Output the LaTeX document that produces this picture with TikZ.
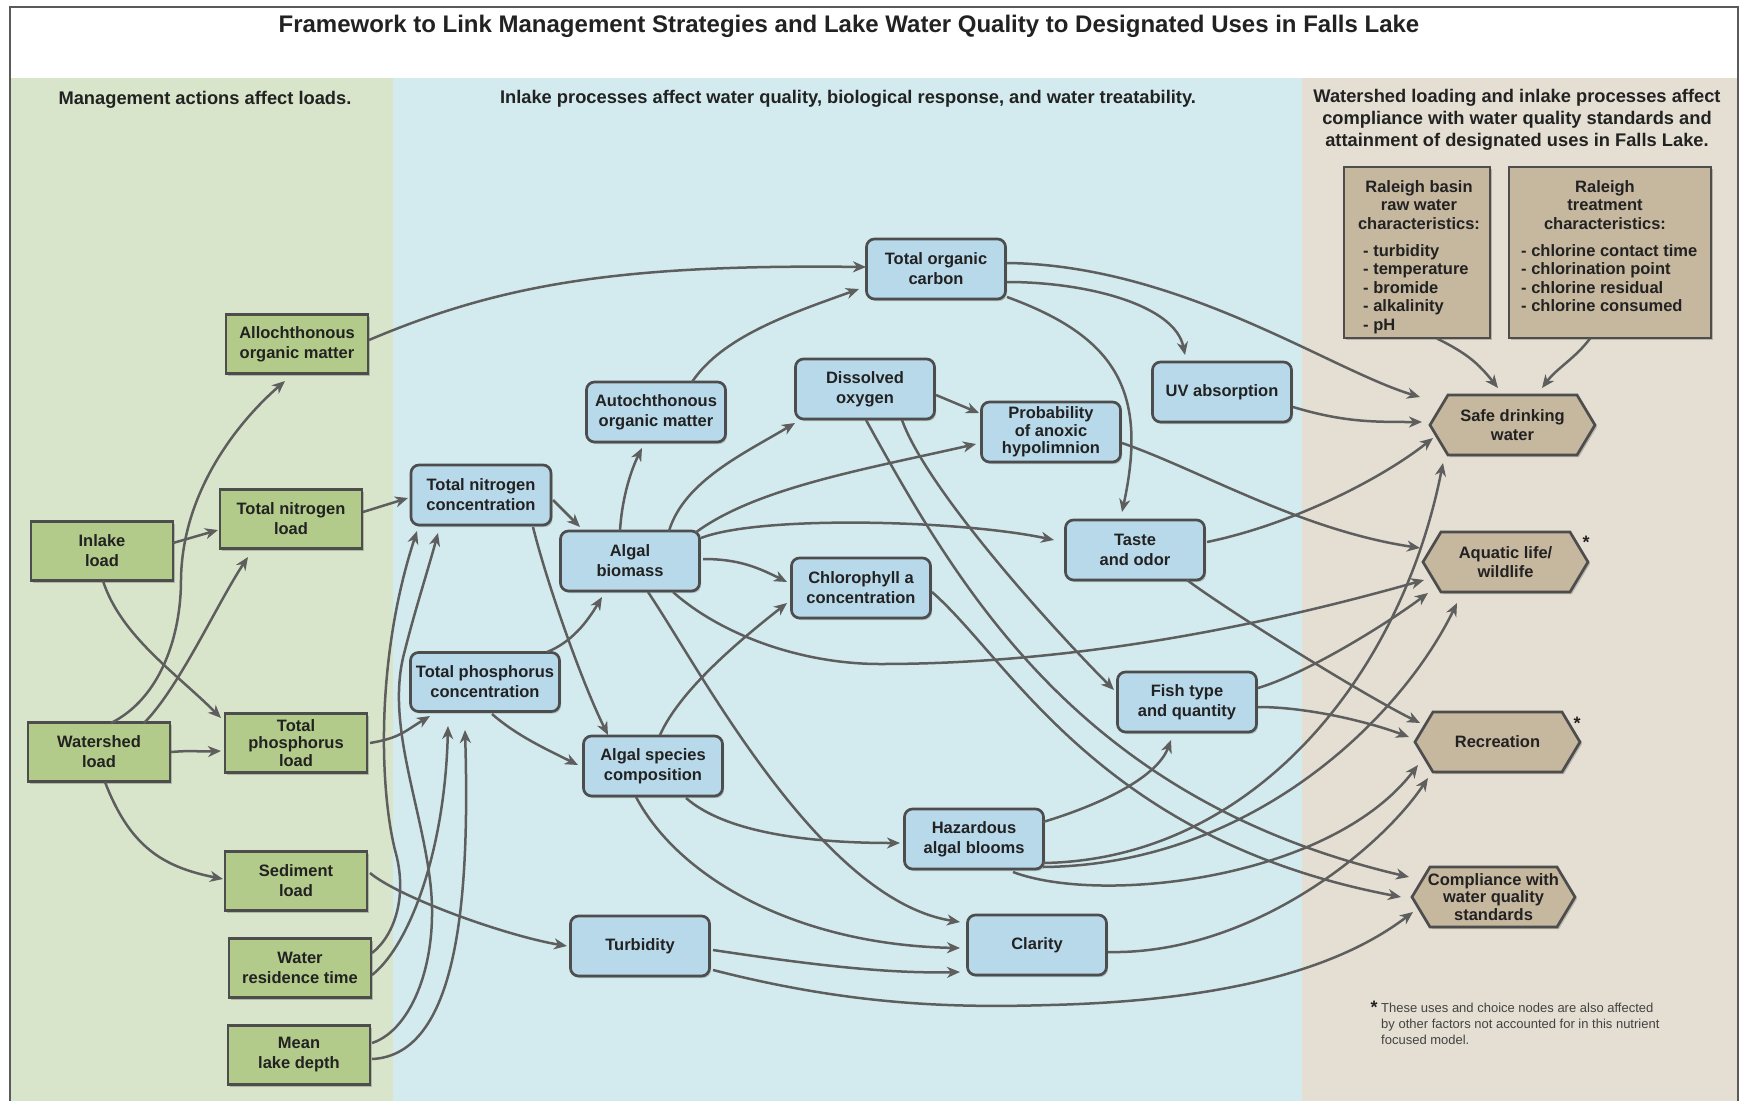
\documentclass[tikz,border=0pt]{standalone}
\usepackage{fontspec}
\setmainfont{Liberation Sans}
\usetikzlibrary{arrows.meta,shadows}

\definecolor{gpanel}{HTML}{D9E5CB}
\definecolor{bpanel}{HTML}{D3EBEE}
\definecolor{tpanel}{HTML}{E4DFD2}
\definecolor{gfill}{HTML}{B3CB8A}
\definecolor{bfill}{HTML}{B8D9EA}
\definecolor{tfill}{HTML}{C6B79F}
\definecolor{edge}{HTML}{4D4D4D}
\definecolor{arrowc}{HTML}{5E5E5E}
\definecolor{txt}{HTML}{222222}
\definecolor{framec}{HTML}{5A5A5A}

\newcommand\nfA{\bfseries\fontsize{16.5}{20}\selectfont}
\newcommand\nfB{\bfseries\fontsize{16.5}{17.5}\selectfont}
\newcommand\nfC{\bfseries\fontsize{16.5}{18.6}\selectfont}
\newcommand\hdfont{\bfseries\fontsize{18.3}{22}\selectfont}

% hexagon outline: centre x, centre y, half width, half height
\newcommand\hexagonat[4]{%
  \fill[black,opacity=0.18] (#1-#3+2,#2+2) -- (#1-#3+20,#2-#4+2) -- (#1+#3-16,#2-#4+2)
     -- (#1+#3+2,#2+2) -- (#1+#3-16,#2+#4+2) -- (#1-#3+20,#2+#4+2) -- cycle;
  \filldraw[hexline] (#1-#3,#2) -- (#1-#3+18,#2-#4) -- (#1+#3-18,#2-#4)
     -- (#1+#3,#2) -- (#1+#3-18,#2+#4) -- (#1-#3+18,#2+#4) -- cycle;}

\begin{document}
\begin{tikzpicture}[x=1pt,y=-1pt,
  every node/.style={text=txt, inner sep=0pt},
  box/.style={draw=edge, line width=2.7pt, align=center, font=\nfA,
    drop shadow={shadow xshift=1.5pt,shadow yshift=-2pt,opacity=0.2,fill=black}},
  gbox/.style={box, fill=gfill, minimum width=142pt, minimum height=59pt},
  bbox/.style={box, fill=bfill, rounded corners=8pt, minimum width=139pt, minimum height=60pt},
  tbox/.style={box, fill=tfill},
  hexline/.style={draw=edge, line width=2.7pt, fill=tfill, line join=miter},
  hextext/.style={align=center, font=\nfA},
  head/.style={align=center, font=\hdfont},
  arr/.style={draw=arrowc, line width=2.5pt, -{Stealth[length=13pt,width=11pt,inset=4pt]}},
]
\useasboundingbox (0,0) rectangle (1741,1101);
\fill[white] (0,0) rectangle (1741,1101);

% background panels
\fill[gpanel] (10,78) rectangle (393,1101);
\fill[bpanel] (393,78) rectangle (1302,1101);
\fill[tpanel] (1302,78) rectangle (1738,1101);
\draw[framec, line width=2pt] (10,1101) -- (10,7) -- (1738,7) -- (1738,1101);

% titles
\node[font=\bfseries\fontsize{24}{28}\selectfont] (title) at (849,26)
  {Framework to Link Management Strategies and Lake Water Quality to Designated Uses in Falls Lake};
\node[head] (hleft) at (205,100) {Management actions affect loads.};
\node[head] (hmid) at (848,99) {Inlake processes affect water quality, biological response, and water treatability.};
\node[head] (hright) at (1517,120) {Watershed loading and inlake processes affect\\compliance with water quality standards and\\attainment of designated uses in Falls Lake.};

% loads
\node[gbox] (alloch) at (297,344) {Allochthonous\\organic matter};
\node[gbox] (tnl) at (291,519) {Total nitrogen\\load};
\node[gbox] (inl) at (102,551) {Inlake\\load};
\node[gbox,font=\nfB] (tpl) at (296,743) {Total\\phosphorus\\load};
\node[gbox] (ws) at (99,752) {Watershed\\load};
\node[gbox] (sed) at (296,881) {Sediment\\load};
\node[gbox] (wrt) at (300,968) {Water\\residence time};
\node[gbox] (mld) at (299,1055) {Mean\\lake depth};

% inlake processes
\node[bbox] (toc) at (936,269) {Total organic\\carbon};
\node[bbox] (autoc) at (656,412) {Autochthonous\\organic matter};
\node[bbox] (dox) at (865,389) {Dissolved\\oxygen};
\node[bbox,font=\nfB] (prob) at (1051,432) {Probability\\of anoxic\\hypolimnion};
\node[bbox] (uv) at (1222,392) {UV absorption};
\node[bbox,minimum width=140pt] (tnc) at (481,495) {Total nitrogen\\concentration};
\node[bbox] (alg) at (630,561) {Algal\\biomass};
\node[bbox] (taste) at (1135,550) {Taste\\and odor};
\node[bbox] (chl) at (861,588) {Chlorophyll a\\concentration};
\node[bbox,minimum width=149pt,minimum height=59pt] (tpc) at (485,682) {Total phosphorus\\concentration};
\node[bbox] (fish) at (1187,702) {Fish type\\and quantity};
\node[bbox] (asp) at (653,766) {Algal species\\composition};
\node[bbox] (hab) at (974,839) {Hazardous\\algal blooms};
\node[bbox] (turb) at (640,946) {Turbidity};
\node[bbox] (clar) at (1037,945) {Clarity};

% Raleigh characteristics
\node[tbox,minimum width=146pt,minimum height=171pt] (basin) at (1417,252.5) {};
\node[align=center,font=\nfC] (basinhead) at (1419,205) {Raleigh basin\\raw water\\characteristics:};
\node[align=left,font=\nfC,anchor=north west] (basinlist) at (1363,244)
  {- turbidity\\- temperature\\- bromide\\- alkalinity\\- pH};
\node[tbox,minimum width=202pt,minimum height=171pt] (treat) at (1610,252.5) {};
\node[align=center,font=\nfC] (treathead) at (1605,205) {Raleigh\\treatment\\characteristics:};
\node[align=left,font=\nfC,anchor=north west] (treatlist) at (1521,244)
  {- chlorine contact time\\- chlorination point\\- chlorine residual\\- chlorine consumed};

% designated uses
\hexagonat{1512.5}{425}{82.5}{30}
\node[hextext,font=\bfseries\fontsize{16.5}{18.5}\selectfont,minimum width=165pt,minimum height=60pt] (safe) at (1512.5,425) {Safe drinking\\water};
\hexagonat{1505.5}{562}{82.5}{30}
\node[hextext,font=\bfseries\fontsize{16.5}{19.5}\selectfont,minimum width=165pt,minimum height=60pt] (aqua) at (1505.5,562) {Aquatic life/\\wildlife};
\hexagonat{1497.5}{742}{82.5}{30}
\node[hextext,minimum width=165pt,minimum height=60pt] (rec) at (1497.5,742) {Recreation};
\hexagonat{1493.5}{897}{81.5}{30}
\node[hextext,font=\nfB,minimum width=163pt,minimum height=60pt] (comp) at (1493.5,897) {Compliance with\\water quality\\standards};
\node[font=\bfseries\fontsize{18}{18}\selectfont,anchor=base] (staraqua) at (1586,548) {*};
\node[font=\bfseries\fontsize{18}{18}\selectfont,anchor=base] (starrec) at (1577,729) {*};

% footnote
\node[font=\bfseries\fontsize{18}{18}\selectfont,anchor=base] (fstar) at (1374,1013) {*};
\node[align=left,anchor=north west,font=\fontsize{13}{15.8}\selectfont,text=txt!85] (fnote) at (1381,1003)
  {These uses and choice nodes are also affected\\by other factors not accounted for in this nutrient\\focused model.};

% ---- connectors: loads ----
\draw[arr] ([shift={(71,-8)}]inl.center) -- ([shift={(-73,11)}]tnl.center);
\draw[arr] ([shift={(1,30)}]inl.center) .. controls +(18,55) and +(-45,-45) .. ([shift={(-75,-25)}]tpl.center);
\draw[arr] ([shift={(12,-29)}]ws.center) .. controls +(50,-25) and +(0,55) .. (181,580)
   .. controls +(1,-90) and +(-45,39) .. ([shift={(-12,37)}]alloch.center);
\draw[arr] ([shift={(45,-29)}]ws.center) .. controls +(35,-35) and +(-30,45) .. ([shift={(-43,38)}]tnl.center);
\draw[arr] ([shift={(72,0)}]ws.center) .. controls +(25,-2) and +(-25,1) .. ([shift={(-75,8)}]tpl.center);
\draw[arr] ([shift={(6,30)}]ws.center) .. controls +(25,65) and +(-60,-12) .. ([shift={(-73,-2)}]sed.center);
\draw[arr] ([shift={(72,-4)}]alloch.center) .. controls +(130,-55) and +(-250,-3) .. ([shift={(-70,-2)}]toc.center);
\draw[arr] ([shift={(72,-7)}]tnl.center) -- ([shift={(-73,3)}]tnc.center);
\draw[arr] ([shift={(74,0)}]tpl.center) .. controls +(30,-5) and +(-25,15) .. ([shift={(-55,34)}]tpc.center);
\draw[arr] ([shift={(74,-8)}]sed.center) .. controls +(30,25) and +(-60,-10) .. ([shift={(-73,0)}]turb.center);
\draw[arr] ([shift={(72,-15)}]wrt.center) .. controls +(23,-18) and +(13,45) .. (395,850)
   .. controls +(-15,-60) and +(-42,129) .. ([shift={(-64,36)}]tnc.center);
\draw[arr] ([shift={(73,-12)}]mld.center) .. controls +(40,-13) and +(10,80) .. (430,880)
   .. controls +(-10,-80) and +(-20,70) .. (405,650)
   .. controls +(10,-40) and +(-10,37) .. ([shift={(-43,38)}]tnc.center);
\draw[arr] ([shift={(72,7)}]wrt.center) .. controls +(38,-30) and +(-3,124) .. ([shift={(-37,44)}]tpc.center);
\draw[arr] ([shift={(73,4)}]mld.center) .. controls +(86,-4) and +(5,170) .. ([shift={(-20,48)}]tpc.center);

% ---- connectors: inlake processes ----
\draw[arr] ([shift={(72,5)}]tnc.center) -- ([shift={(-50,-34)}]alg.center);
\draw[arr] ([shift={(52,32)}]tnc.center) .. controls +(15,60) and +(-25,-50) .. ([shift={(-45,-31)}]asp.center);
\draw[arr] ([shift={(62,-30)}]tpc.center) .. controls +(25,-10) and +(-15,25) .. ([shift={(-28,36)}]alg.center);
\draw[arr] ([shift={(7,32)}]tpc.center) .. controls +(25,22) and +(-30,-15) .. ([shift={(-75,-1)}]asp.center);
\draw[arr] ([shift={(-10,-30)}]alg.center) .. controls +(2,-35) and +(-10,20) .. ([shift={(-14,36)}]autoc.center);
\draw[arr] ([shift={(39,-30)}]alg.center) .. controls +(15,-50) and +(-50,30) .. ([shift={(-70,34)}]dox.center);
\draw[arr] ([shift={(65,-28)}]alg.center) .. controls +(60,-45) and +(-110,25) .. ([shift={(-75,12)}]prob.center);
\draw[arr] ([shift={(71,-23)}]alg.center) .. controls +(59,-23) and +(-94,-20) .. ([shift={(-81,-10)}]taste.center);
\draw[arr] ([shift={(73,-2)}]alg.center) .. controls +(35,0) and +(-30,-15) .. ([shift={(-74,-6)}]chl.center);
\draw[arr] ([shift={(43,31)}]alg.center) .. controls +(47,42) and +(-80,0) .. (880,664)
   .. controls +(220,0) and +(-124,35) .. ([shift={(-81.5,18)}]aqua.center);
\draw[arr] ([shift={(18,31)}]alg.center) .. controls +(52,77) and +(-140,-22) .. ([shift={(-77,-23)}]clar.center);
\draw[arr] ([shift={(36,-30)}]autoc.center) .. controls +(30,-45) and +(-70,25) .. ([shift={(-77,20)}]toc.center);
\draw[arr] ([shift={(71,13)}]toc.center) .. controls +(80,0) and +(-10,-50) .. ([shift={(-37,-37)}]uv.center);
\draw[arr] ([shift={(71,28)}]toc.center) .. controls +(110,40) and +(26,-120) .. ([shift={(-13,-38)}]taste.center);
\draw[arr] ([shift={(71,-6)}]toc.center) .. controls +(173,2) and +(-90,-27) .. ([shift={(-92.5,-28)}]safe.center);
\draw[arr] ([shift={(71,6)}]dox.center) -- ([shift={(-72,-19)}]prob.center);
\draw[arr] ([shift={(37,31)}]dox.center) .. controls +(25,70) and +(-60,-60) .. ([shift={(-73,-12)}]fish.center);
\draw[arr] ([shift={(1,31)}]dox.center) .. controls +(94,170) and +(-329,-77) .. ([shift={(-84.5,-20)}]comp.center);
\draw[arr] ([shift={(71,4)}]chl.center) .. controls +(78,68) and +(-301,-57) .. ([shift={(-92.5,0)}]comp.center);
\draw[arr] ([shift={(71,11)}]prob.center) .. controls +(78,27) and +(-120,-18) .. ([shift={(-85.5,-14)}]aqua.center);
\draw[arr] ([shift={(71,15)}]uv.center) .. controls +(50,15) and +(-50,0) .. ([shift={(-90.5,-3)}]safe.center);
\draw[arr] ([shift={(72,-8)}]taste.center) .. controls +(83,-17) and +(-53,42) .. ([shift={(-79.5,13)}]safe.center);
\draw[arr] ([shift={(52,30)}]taste.center) .. controls +(40,30) and +(-60,-30) .. ([shift={(-77.5,-19)}]rec.center);
\draw[arr] ([shift={(71,-14)}]fish.center) .. controls +(50,-15) and +(-40,30) .. ([shift={(-77.5,31)}]aqua.center);
\draw[arr] ([shift={(71,5)}]fish.center) .. controls +(50,0) and +(-40,-15) .. ([shift={(-88.5,-5)}]rec.center);
\draw[arr] ([shift={(69,-17)}]hab.center) .. controls +(50,-15) and +(-15,40) .. ([shift={(-16,38)}]fish.center);
\draw[arr] ([shift={(69,24)}]hab.center) .. controls +(207,-3) and +(-43,217) .. ([shift={(-69.5,38)}]safe.center);
\draw[arr] ([shift={(69,28)}]hab.center) .. controls +(207,-2) and +(-57,117) .. ([shift={(-48.5,41)}]aqua.center);
\draw[arr] ([shift={(39,33)}]hab.center) .. controls +(87,33) and +(-88,115) .. ([shift={(-79.5,23)}]rec.center);
\draw[arr] ([shift={(71,7)}]clar.center) .. controls +(142,3) and +(-48,72) .. ([shift={(-69.5,36)}]rec.center);
\draw[arr] ([shift={(73,4)}]turb.center) .. controls +(80,12) and +(-80,2) .. ([shift={(-77,27)}]clar.center);
\draw[arr] ([shift={(-17,31)}]asp.center) .. controls +(44,83) and +(-160,-3) .. ([shift={(-77,3)}]clar.center);
\draw[arr] ([shift={(33,32)}]asp.center) .. controls +(40,35) and +(-90,0) .. ([shift={(-74,4)}]hab.center);
\draw[arr] ([shift={(7,-31)}]asp.center) .. controls +(20,-45) and +(-47,37) .. ([shift={(-74,15)}]chl.center);
\draw[arr] ([shift={(73,24)}]turb.center) .. controls +(137,35) and +(-100,3) .. (1050,1005)
   .. controls +(200,-5) and +(-63,48) .. ([shift={(-80.5,15)}]comp.center);

% ---- connectors: Raleigh characteristics ----
\draw[arr] ([shift={(20,86)}]basin.center) .. controls +(30,15) and +(-20,-25) .. ([shift={(-14.5,-37)}]safe.center);
\draw[arr] ([shift={(-20,86)}]treat.center) .. controls +(-15,20) and +(15,-20) .. ([shift={(29.5,-37)}]safe.center);
\end{tikzpicture}
\end{document}
